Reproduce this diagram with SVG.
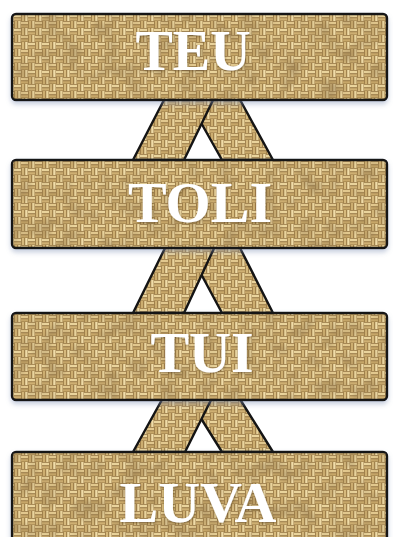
<svg xmlns="http://www.w3.org/2000/svg" width="393" height="537" viewBox="0 0 393 537">
<defs>
<pattern id="weave" patternUnits="userSpaceOnUse" width="14" height="14">
<rect width="14" height="14" fill="#8c6c3a"/>
<rect x="0" y="0.7" width="7" height="2.6" fill="#ead49c"/>
<rect x="0" y="4.2" width="7" height="2.4" fill="#cfb073"/>
<rect x="7.7" y="0" width="2.6" height="7" fill="#d6b97c"/>
<rect x="11.2" y="0" width="2.4" height="7" fill="#f0dca8"/>
<rect x="0.7" y="7" width="2.6" height="7" fill="#cdae70"/>
<rect x="4.2" y="7" width="2.4" height="7" fill="#e9d39c"/>
<rect x="7" y="7.7" width="7" height="2.6" fill="#e2c88e"/>
<rect x="7" y="11.2" width="7" height="2.4" fill="#c7a769"/>
</pattern>
<filter id="mottle" x="0" y="0" width="100%" height="100%">
<feTurbulence type="fractalNoise" baseFrequency="0.05" numOctaves="2" seed="3"/>
<feColorMatrix type="matrix" values="0 0 0 0 0.3  0 0 0 0 0.2  0 0 0 0 0.08  0 0 0 -2 1.1"/>
</filter>
<filter id="boxShadow" x="-5%" y="-10%" width="110%" height="130%">
<feDropShadow dx="0" dy="3" stdDeviation="2.5" flood-color="#7f8fb5" flood-opacity="0.45"/>
</filter>
<filter id="txtShadow" x="-10%" y="-20%" width="120%" height="140%">
<feDropShadow dx="0.5" dy="1" stdDeviation="1.2" flood-color="#3a2a10" flood-opacity="0.5"/>
</filter>
</defs>
<style>
.box{fill:url(#weave);stroke:#141414;stroke-width:2.4}
.strip{fill:url(#weave);stroke:#141414;stroke-width:2.4;stroke-linejoin:round}
.lbl{font-family:"Liberation Serif","Times New Roman",serif;font-weight:bold;fill:#ffffff;text-anchor:middle;filter:url(#txtShadow)}
</style>
<rect width="393" height="537" fill="#ffffff"/>
<g id="connectors">
<g id="c1">
<polygon class="strip" points="186,96 238,96 273,160 222,160"/>
<polygon class="strip" points="166,96 215,96 184,160 133,160"/>
</g>
<g id="c2">
<polygon class="strip" points="185,244 238,244 273,313 222,313"/>
<polygon class="strip" points="167,244 216,244 184,313 133,313"/>
</g>
<g id="c3">
<polygon class="strip" points="187,396 238,396 273,452 222,452"/>
<polygon class="strip" points="164,396 213,396 185,452 133,452"/>
</g>
</g>
<g id="teu" filter="url(#boxShadow)">
<rect class="box" x="12" y="14" width="375" height="86" rx="4"/>
<rect x="13" y="15" width="373" height="84" filter="url(#mottle)" opacity="0.6"/>
<text class="lbl" x="193" y="70" font-size="56">TEU</text>
</g>
<g id="toli" filter="url(#boxShadow)">
<rect class="box" x="12" y="160" width="375" height="88" rx="4"/>
<rect x="13" y="161" width="373" height="86" filter="url(#mottle)" opacity="0.6"/>
<text class="lbl" x="200" y="222" font-size="58">TOLI</text>
</g>
<g id="tui" filter="url(#boxShadow)">
<rect class="box" x="12" y="313" width="375" height="87" rx="4"/>
<rect x="13" y="314" width="373" height="85" filter="url(#mottle)" opacity="0.6"/>
<text class="lbl" x="202" y="372" font-size="58">TUI</text>
</g>
<g id="luva" filter="url(#boxShadow)">
<rect class="box" x="12" y="452" width="375" height="100" rx="4"/>
<rect x="13" y="453" width="373" height="84" filter="url(#mottle)" opacity="0.6"/>
<text class="lbl" x="198" y="522" font-size="58">LUVA</text>
</g>
</svg>
